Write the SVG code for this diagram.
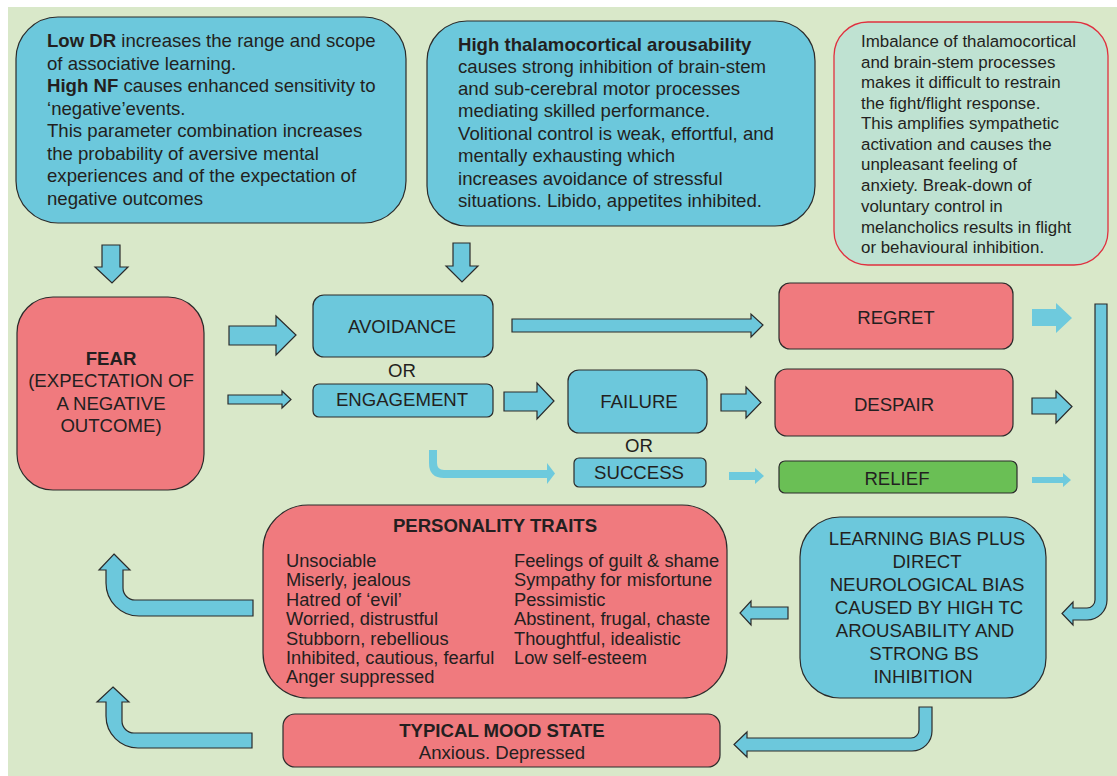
<svg xmlns="http://www.w3.org/2000/svg" width="1117" height="776" viewBox="0 0 1117 776">
<style>
text{font-family:"Liberation Sans",Arial,sans-serif;fill:#231f20}
.t17{font-size:18.6px}
.t16{font-size:18.3px}
.t15{font-size:16.9px}
.b{font-weight:bold}
.c{text-anchor:middle}
.blue{fill:#6cc8dc;stroke:#2b2b2b;stroke-width:1.2}
.red{fill:#f07a7e;stroke:#2b2b2b;stroke-width:1.2}
.green{fill:#6abf55;stroke:#2b2b2b;stroke-width:1.2}
.arr{fill:#6cc8dc;stroke:#2b2b2b;stroke-width:1.2;stroke-linejoin:miter}
.arrf{fill:#6ecadd;stroke:none}
</style>
<rect x="0" y="0" width="1117" height="776" fill="#ffffff"/>
<rect x="8" y="7" width="1109" height="769" fill="#d9e8c9"/>

<g id="node-lowdr">
<rect class="blue" x="16" y="17" width="390" height="206" rx="42"/>
<text class="t17" x="47" y="47"><tspan class="b">Low DR</tspan> increases the range and scope</text>
<text class="t17" x="47" y="69.5">of associative learning.</text>
<text class="t17" x="47" y="92"><tspan class="b">High NF</tspan> causes enhanced sensitivity to</text>
<text class="t17" x="47" y="114.5">‘negative’events.</text>
<text class="t17" x="47" y="137">This parameter combination increases</text>
<text class="t17" x="47" y="159.5">the probability of aversive mental</text>
<text class="t17" x="47" y="182">experiences and of the expectation of</text>
<text class="t17" x="47" y="204.5">negative outcomes</text>
</g>

<g id="node-tc">
<rect class="blue" x="427" y="21" width="388" height="205" rx="40"/>
<text class="t17 b" x="458" y="51">High thalamocortical arousability</text>
<text class="t17" x="458" y="73">causes strong inhibition of brain-stem</text>
<text class="t17" x="458" y="95">and sub-cerebral motor processes</text>
<text class="t17" x="458" y="117">mediating skilled performance.</text>
<text class="t17" x="458" y="140">Volitional control is weak, effortful, and</text>
<text class="t17" x="458" y="162">mentally exhausting which</text>
<text class="t17" x="458" y="185">increases avoidance of stressful</text>
<text class="t17" x="458" y="207">situations. Libido, appetites inhibited.</text>
</g>

<g id="node-imbalance">
<rect x="834" y="22" width="274" height="243" rx="34" fill="#bfe2d2" stroke="#e0303f" stroke-width="1.3"/>
<text class="t15" x="861" y="47">Imbalance of thalamocortical</text>
<text class="t15" x="861" y="68">and brain-stem processes</text>
<text class="t15" x="861" y="88">makes it difficult to restrain</text>
<text class="t15" x="861" y="109">the fight/flight response.</text>
<text class="t15" x="861" y="129">This amplifies sympathetic</text>
<text class="t15" x="861" y="150">activation and causes the</text>
<text class="t15" x="861" y="170">unpleasant feeling of</text>
<text class="t15" x="861" y="191">anxiety. Break-down of</text>
<text class="t15" x="861" y="212">voluntary control in</text>
<text class="t15" x="861" y="233">melancholics results in flight</text>
<text class="t15" x="861" y="253">or behavioural inhibition.</text>
</g>

<g id="node-fear">
<rect class="red" x="17" y="297" width="187" height="193" rx="36"/>
<text class="t17 c b" x="111" y="365">FEAR</text>
<text class="t17 c" x="111" y="387">(EXPECTATION OF</text>
<text class="t17 c" x="111" y="410">A NEGATIVE</text>
<text class="t17 c" x="111" y="432">OUTCOME)</text>
</g>

<g id="node-avoidance">
<rect class="blue" x="313" y="295" width="180" height="62" rx="11"/>
<text class="t17 c" x="402" y="333">AVOIDANCE</text>
</g>
<text class="t17 c" x="402" y="377">OR</text>
<g id="node-engagement">
<rect class="blue" x="313" y="384" width="180" height="33" rx="6"/>
<text class="t17 c" x="402" y="406">ENGAGEMENT</text>
</g>

<g id="node-failure">
<rect class="blue" x="568" y="370" width="139" height="63" rx="11"/>
<text class="t17 c" x="639" y="408">FAILURE</text>
</g>
<text class="t17 c" x="639" y="452">OR</text>
<g id="node-success">
<rect class="blue" x="574" y="458" width="132" height="29" rx="5"/>
<text class="t17 c" x="639" y="479">SUCCESS</text>
</g>

<g id="node-regret">
<rect class="red" x="779" y="283" width="234" height="66" rx="11"/>
<text class="t17 c" x="896" y="324">REGRET</text>
</g>
<g id="node-despair">
<rect class="red" x="775" y="369" width="238" height="67" rx="12"/>
<text class="t17 c" x="894" y="411">DESPAIR</text>
</g>
<g id="node-relief">
<rect class="green" x="779" y="461" width="238" height="32" rx="6"/>
<text class="t17 c" x="897" y="485">RELIEF</text>
</g>

<g id="node-learning">
<rect class="blue" x="800" y="517" width="246" height="181" rx="40"/>
<text class="t17 c" x="927" y="545">LEARNING BIAS PLUS</text>
<text class="t17 c" x="927" y="568">DIRECT</text>
<text class="t17 c" x="927" y="591">NEUROLOGICAL BIAS</text>
<text class="t17 c" x="929" y="614">CAUSED BY HIGH TC</text>
<text class="t17 c" x="925" y="637">AROUSABILITY AND</text>
<text class="t17 c" x="924" y="660">STRONG BS</text>
<text class="t17 c" x="923" y="683">INHIBITION</text>
</g>

<g id="node-traits">
<rect class="red" x="263" y="505" width="464" height="193" rx="45"/>
<text class="t17 c b" x="495" y="532">PERSONALITY TRAITS</text>
<text class="t16" x="286" y="567">Unsociable</text>
<text class="t16" x="286" y="586.4">Miserly, jealous</text>
<text class="t16" x="286" y="605.8">Hatred of ‘evil’</text>
<text class="t16" x="286" y="625.2">Worried, distrustful</text>
<text class="t16" x="286" y="644.6">Stubborn, rebellious</text>
<text class="t16" x="286" y="664">Inhibited, cautious, fearful</text>
<text class="t16" x="286" y="683.4">Anger suppressed</text>
<text class="t16" x="514" y="567">Feelings of guilt &amp; shame</text>
<text class="t16" x="514" y="586.4">Sympathy for misfortune</text>
<text class="t16" x="514" y="605.8">Pessimistic</text>
<text class="t16" x="514" y="625.2">Abstinent, frugal, chaste</text>
<text class="t16" x="514" y="644.6">Thoughtful, idealistic</text>
<text class="t16" x="514" y="664">Low self-esteem</text>
</g>

<g id="node-mood">
<rect class="red" x="283" y="714" width="437" height="53" rx="12"/>
<text class="t17 c b" x="502" y="737">TYPICAL MOOD STATE</text>
<text class="t17 c" x="502" y="759">Anxious. Depressed</text>
</g>

<g id="connectors">
<polygon class="arr" points="102,245 120,245 120,267 128,267 112,283 95,267 102,267"/>
<polygon class="arr" points="453,243 470,243 470,266 478,266 462,282 446,266 453,266"/>
<polygon class="arr" points="229,326 276,326 276,316 296,335 276,355 276,345 229,345"/>
<polygon class="arr" points="228,395 282,395 282,391 291,399.5 282,408 282,404 228,404"/>
<polygon class="arr" points="512,319 751,319 751,314 763,325 751,337 751,332 512,332"/>
<polygon class="arr" points="504,392 537,392 537,383 554,401 537,419 537,411 504,411"/>
<polygon class="arr" points="721,394 746,394 746,387 761,402.5 746,418 746,411 721,411"/>
<path d="M433,450 V463 Q433,474 444,474 H548" fill="none" stroke="#6ecadd" stroke-width="8"/>
<polygon class="arrf" points="547,463 555,473.5 547,484"/>
<polygon class="arrf" points="729,472 755,472 755,468 764,476 755,484 755,480 729,480"/>
<polygon class="arrf" points="1032,309 1056,309 1056,303 1072,318 1056,333 1056,326 1032,326"/>
<polygon class="arr" points="1032,398 1056,398 1056,391 1072,406.5 1056,423 1056,414 1032,414"/>
<polygon class="arrf" points="1032,477 1063,477 1063,473 1071,480 1063,487 1063,483 1032,483"/>
<path class="arr" d="M1095,304 H1107 V600 A20,20 0 0 1 1087,620 H1073 V625 L1062,613.5 L1073,602 V608 H1087 A8,8 0 0 0 1095,600 Z"/>
<polygon class="arr" points="788,607 751,607 751,601 740,613 751,625 751,619 788,619"/>
<path class="arr" d="M919,707 H932 V731 A20,20 0 0 1 912,751 H747 V757 L734,744.5 L747,732 V738 H911 A8,8 0 0 0 919,730 Z"/>
<path class="arr" d="M114,554 L130,570 L123,570 L123,588 A12,12 0 0 0 135,600 L253,600 L253,616 L139,616 A33,33 0 0 1 106,583 L106,570 L99,570 Z"/>
<path class="arr" d="M113,687 L129,702 L122,702 L122,721 A12,12 0 0 0 134,733 L252,733 L252,748 L138,748 A32,32 0 0 1 106,716 L106,702 L97,702 Z"/>
</g>
</svg>
